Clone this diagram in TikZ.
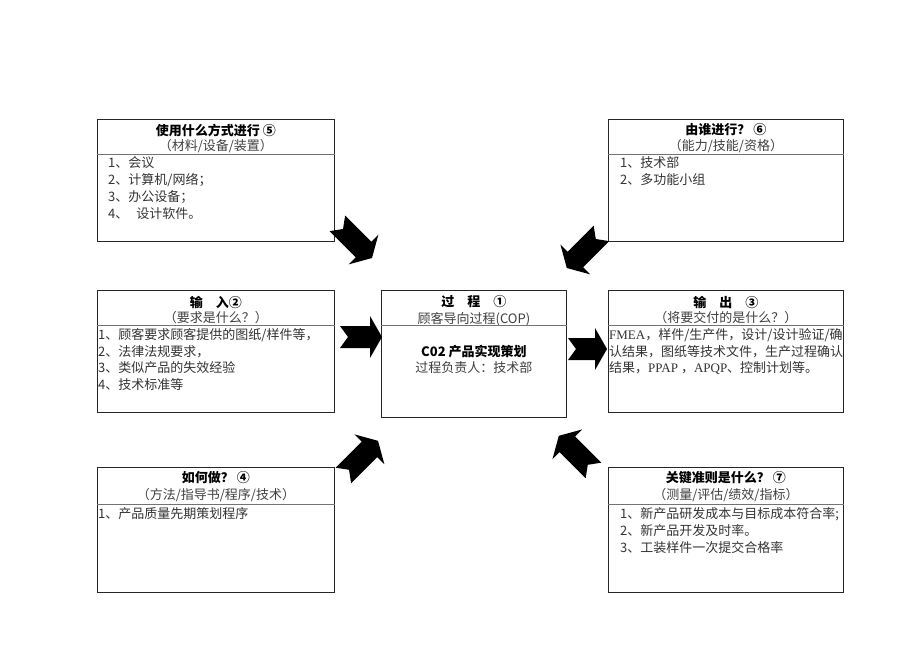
\documentclass[tikz,border=0pt]{standalone}
\usepackage{fontspec}
\setmainfont{Noto Sans CJK SC}
\newfontfamily\latinserif{Liberation Serif}
\usetikzlibrary{positioning,calc}

\begin{document}
\begin{tikzpicture}[x=1pt,y=-1pt,
    pbox/.style={draw=black!85, line width=0.8pt, inner sep=0pt, anchor=north west},
    sepline/.style={draw=black!55, line width=0.8pt},
    ttl/.style={font=\fontsize{13}{15}\selectfont\bfseries, inner sep=0pt, text=black},
    sub/.style={font=\fontsize{13}{15}\selectfont, inner sep=0pt, text=black!75},
    itm/.style={font=\fontsize{13}{15}\selectfont, inner sep=0pt, anchor=west, text=black!80},
    pics/blockarr/.style={code={
      \fill[black] (0,0) -- (-12,21) -- (-12,11) -- (-#1,11) -- (-#1+8,0)
        -- (-#1,-11) -- (-12,-11) -- (-12,-21) -- cycle;}}]
  \fill[white] (0,0) rectangle (920,651);
  \useasboundingbox (0,0) rectangle (920,651);
  %%
  % Node: proc
  \node[pbox, minimum width=185pt, minimum height=127pt] (proc) at (381,290) {};
  \node[ttl] (proct) at ([yshift=-12pt]proc.north) {过　程　①};
  \node[sub] (procs) at ([yshift=-29pt]proc.north) {顾客导向过程(COP)};
  \draw[sepline] ([yshift=-35pt]proc.north west) -- ([yshift=-35pt]proc.north east);
  \node[ttl] (procn) at ([yshift=-62pt]proc.north) {C02 产品实现策划};
  \node[sub] (procr) at ([yshift=-78pt]proc.north) {过程负责人：技术部};
  %
  % Node: b5
  \node[pbox, minimum width=237pt, minimum height=122pt] (b5) at (97,119) {};
  \node[ttl] (b5t) at ([yshift=-11pt]b5.north) {使用什么方式进行 ⑤};
  \node[sub] (b5s) at ([yshift=-27pt]b5.north) {（材料/设备/装置）};
  \draw[sepline] ([yshift=-35pt]b5.north west) -- ([yshift=-35pt]b5.north east);
  \foreach \t [count=\i] in {1、会议, 2、计算机/网络；, 3、办公设备；, 4、\hspace{8pt}设计软件。}
    \node[itm] at ([xshift=11pt,yshift={-44-17*(\i-1)}]b5.north west) {\t};
  %
  % Node: b6
  \node[pbox, minimum width=235pt, minimum height=122pt] (b6) at (608,119) {};
  \node[ttl] (b6t) at ([yshift=-11pt]b6.north) {由谁进行？ ⑥};
  \node[sub] (b6s) at ([yshift=-27pt]b6.north) {（能力/技能/资格）};
  \draw[sepline] ([yshift=-35pt]b6.north west) -- ([yshift=-35pt]b6.north east);
  \foreach \t [count=\i] in {1、技术部, 2、多功能小组}
    \node[itm] at ([xshift=12pt,yshift={-44-17*(\i-1)}]b6.north west) {\t};
  %
  % Node: b2
  \node[pbox, minimum width=237pt, minimum height=122pt] (b2) at (97,290) {};
  \node[ttl] (b2t) at ([yshift=-12pt]b2.north) {输　入②};
  \node[sub] (b2s) at ([yshift=-28pt]b2.north) {（要求是什么？）};
  \draw[sepline] ([yshift=-35pt]b2.north west) -- ([yshift=-35pt]b2.north east);
  \foreach \t [count=\i] in {1、顾客要求顾客提供的图纸/样件等，, 2、法律法规要求，, 3、类似产品的失效经验, 4、技术标准等}
    \node[itm] at ([xshift=1pt,yshift={-45-16.5*(\i-1)}]b2.north west) {\t};
  %
  % Node: b3
  \node[pbox, minimum width=235pt, minimum height=122pt] (b3) at (608,290) {};
  \node[ttl] (b3t) at ([yshift=-12pt]b3.north) {输　出　③};
  \node[sub] (b3s) at ([yshift=-28pt]b3.north) {（将要交付的是什么？）};
  \draw[sepline] ([yshift=-35pt]b3.north west) -- ([yshift=-35pt]b3.north east);
  \foreach \t [count=\i] in {{\latinserif FMEA}，样件/生产件，设计/设计验证/确, 认结果，图纸等技术文件，生产过程确认, 结果，{\latinserif PPAP}\ ，{\latinserif APQP}、控制计划等。}
    \node[itm] at ([xshift=1pt,yshift={-45-16.5*(\i-1)}]b3.north west) {\t};
  %
  % Node: b4
  \node[pbox, minimum width=237pt, minimum height=125pt] (b4) at (97,467) {};
  \node[ttl] (b4t) at ([yshift=-11pt]b4.north) {如何做？ ④};
  \node[sub] (b4s) at ([yshift=-28pt]b4.north) {（方法/指导书/程序/技术）};
  \draw[sepline] ([yshift=-37pt]b4.north west) -- ([yshift=-37pt]b4.north east);
  \node[itm] (b4i) at ([xshift=1pt,yshift=-47pt]b4.north west) {1、产品质量先期策划程序};
  %
  % Node: b7
  \node[pbox, minimum width=235pt, minimum height=125pt] (b7) at (608,467) {};
  \node[ttl] (b7t) at ([yshift=-11pt]b7.north) {关键准则是什么？ ⑦};
  \node[sub] (b7s) at ([yshift=-28pt]b7.north) {（测量/评估/绩效/指标）};
  \draw[sepline] ([yshift=-37pt]b7.north west) -- ([yshift=-37pt]b7.north east);
  \foreach \t [count=\i] in {1、新产品研发成本与目标成本符合率;, 2、新产品开发及时率。, 3、工装样件一次提交合格率}
    \node[itm] at ([xshift=12pt,yshift={-47-17*(\i-1)}]b7.north west) {\t};
  %
  % Edge: arrow tips
  \coordinate (t5) at ($(proc.north west)+(-9,-32)$);
  \coordinate (t6) at ($(proc.north east)+(0,-22)$);
  \coordinate (t2) at ($(proc.north west)+(1,47)$);
  \coordinate (t3) at ($(b3.north west)+(-1,59)$);
  \coordinate (t4) at ($(proc.south west)+(-3,23)$);
  \coordinate (t7) at ($(proc.south east)+(-8,18)$);
  % Edge: b5 -> proc
  \pic[rotate=-45] at (t5) {blockarr=49};
  % Edge: b6 -> proc
  \pic[rotate=-135] at (t6) {blockarr=49};
  % Edge: b2 -> proc
  \pic at (t2) {blockarr=42};
  % Edge: proc -> b3
  \pic at (t3) {blockarr=39};
  % Edge: b4 -> proc
  \pic[rotate=45] at (t4) {blockarr=49};
  % Edge: b7 -> proc
  \pic[rotate=135] at (t7) {blockarr=49};
  %
\end{tikzpicture}
\end{document}
